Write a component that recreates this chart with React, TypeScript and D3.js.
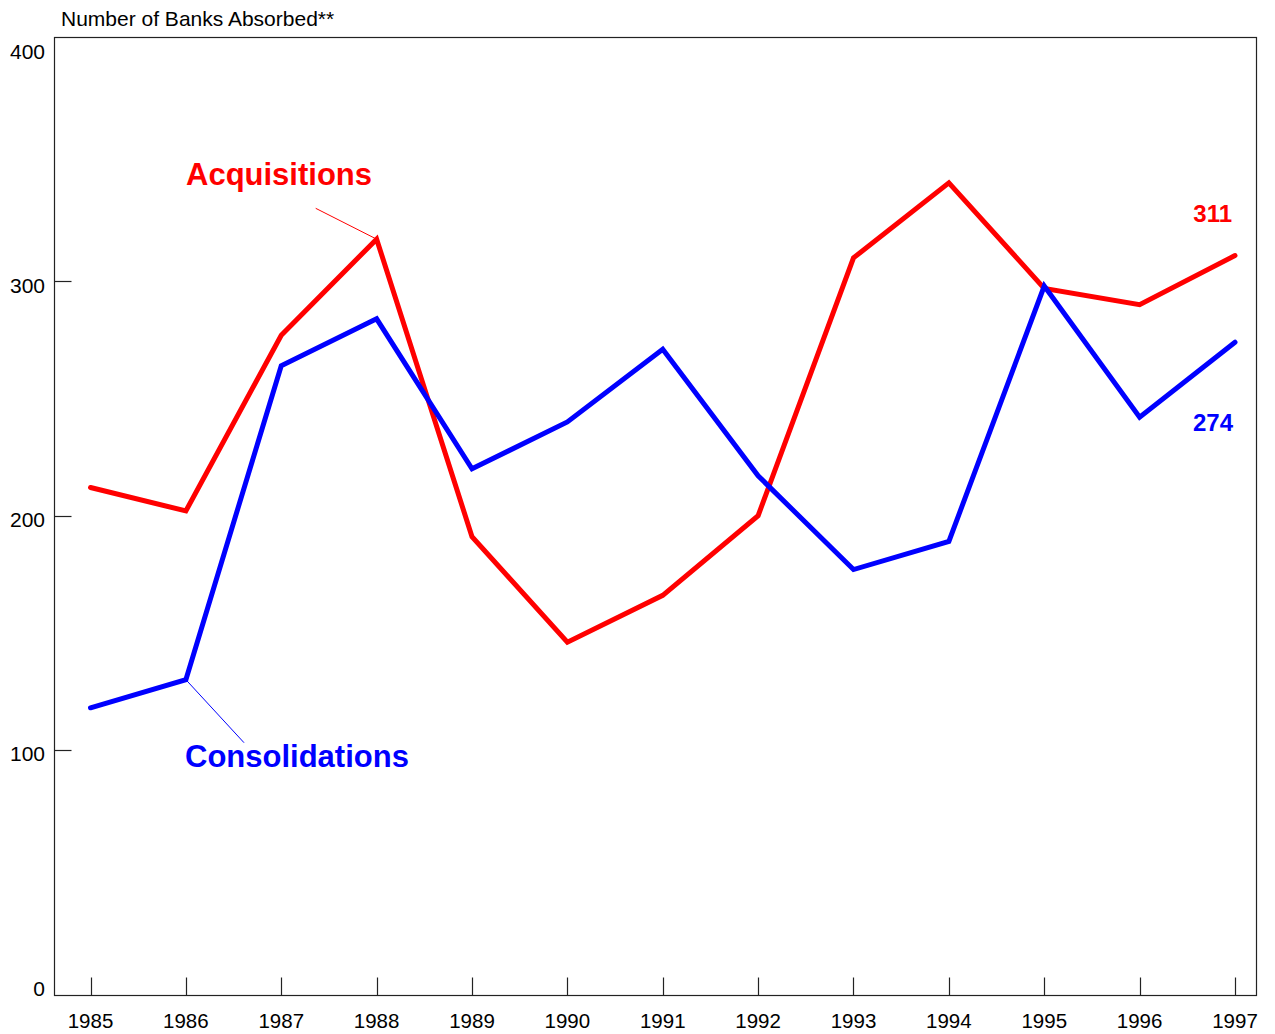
import React from "react";
import * as d3 from "d3";

const years = [1985, 1986, 1987, 1988, 1989, 1990, 1991, 1992, 1993, 1994, 1995, 1996, 1997];
const acquisitions = [212, 202, 277, 318, 191, 146, 166, 200, 310, 342, 297, 290, 311];
const consolidations = [118, 130, 264, 284, 220, 240, 271, 217, 177, 189, 298, 242, 274];
const yTickLabels = [0, 100, 200, 300, 400];
const yTickMarks = [100, 200, 300];

const RED = "#ff0000";
const BLUE = "#0000ff";
const FONT = "Liberation Sans, Arial, sans-serif";

export default function App() {
  const W = 1275, H = 1034;
  const frame = { left: 54.5, right: 1256.5, top: 37.5, bottom: 995.5 };
  const x = d3.scaleLinear().domain([1985, 1997]).range([90.5, 1235]);
  const y = d3.scaleLinear().domain([0, 400]).range([984.3, 47]);
  const line = d3.line<number>().x((_, i) => x(years[i])).y((d) => y(d));

  const lastYear = years[years.length - 1];
  const lastA = acquisitions[acquisitions.length - 1];
  const lastC = consolidations[consolidations.length - 1];

  return (
    <svg width={W} height={H} style={{ position: "absolute", left: 0, top: 0, background: "#fff" }} fontFamily={FONT}>
      <rect x={0} y={0} width={W} height={H} fill="#fff" />
      <text x={61} y={25.5} fontSize={21} fill="#000">Number of Banks Absorbed**</text>
      <rect x={frame.left} y={frame.top} width={frame.right - frame.left} height={frame.bottom - frame.top} fill="none" stroke="#222" strokeWidth={1.2} />
      {yTickMarks.map((t) => (
        <line key={"yt" + t} x1={frame.left} x2={frame.left + 17} y1={Math.round(y(t)) + 0.5} y2={Math.round(y(t)) + 0.5} stroke="#222" strokeWidth={1.2} />
      ))}
      {yTickLabels.map((t) => (
        <text key={"yl" + t} x={45} y={y(t) + 11.5} fontSize={21} textAnchor="end" fill="#000">{t}</text>
      ))}
      {years.map((yr) => (
        <g key={"x" + yr}>
          <line x1={Math.round(x(yr)) + 0.5} x2={Math.round(x(yr)) + 0.5} y1={frame.bottom} y2={frame.bottom - 18} stroke="#222" strokeWidth={1.2} />
          <text x={x(yr)} y={1028} fontSize={20.5} textAnchor="middle" fill="#000">{yr}</text>
        </g>
      ))}
      <path d={line(acquisitions) || ""} fill="none" stroke={RED} strokeWidth={5} strokeLinejoin="miter" strokeLinecap="round" />
      <path d={line(consolidations) || ""} fill="none" stroke={BLUE} strokeWidth={5} strokeLinejoin="miter" strokeLinecap="round" />
      <line x1={315.7} y1={208.3} x2={x(1988)} y2={y(acquisitions[3])} stroke={RED} strokeWidth={1} />
      <line x1={x(1986)} y1={y(consolidations[1])} x2={244} y2={742.7} stroke={BLUE} strokeWidth={1} />
      <text x={186} y={185} fontSize={31} fontWeight="bold" fill={RED}>Acquisitions</text>
      <text x={185} y={767} fontSize={31} fontWeight="bold" fill={BLUE}>Consolidations</text>
      <text x={x(lastYear) - 3} y={y(lastA) - 34} fontSize={24} fontWeight="bold" fill={RED} textAnchor="end">{lastA}</text>
      <text x={x(lastYear) - 2} y={431} fontSize={24} fontWeight="bold" fill={BLUE} textAnchor="end">{lastC}</text>
    </svg>
  );
}
